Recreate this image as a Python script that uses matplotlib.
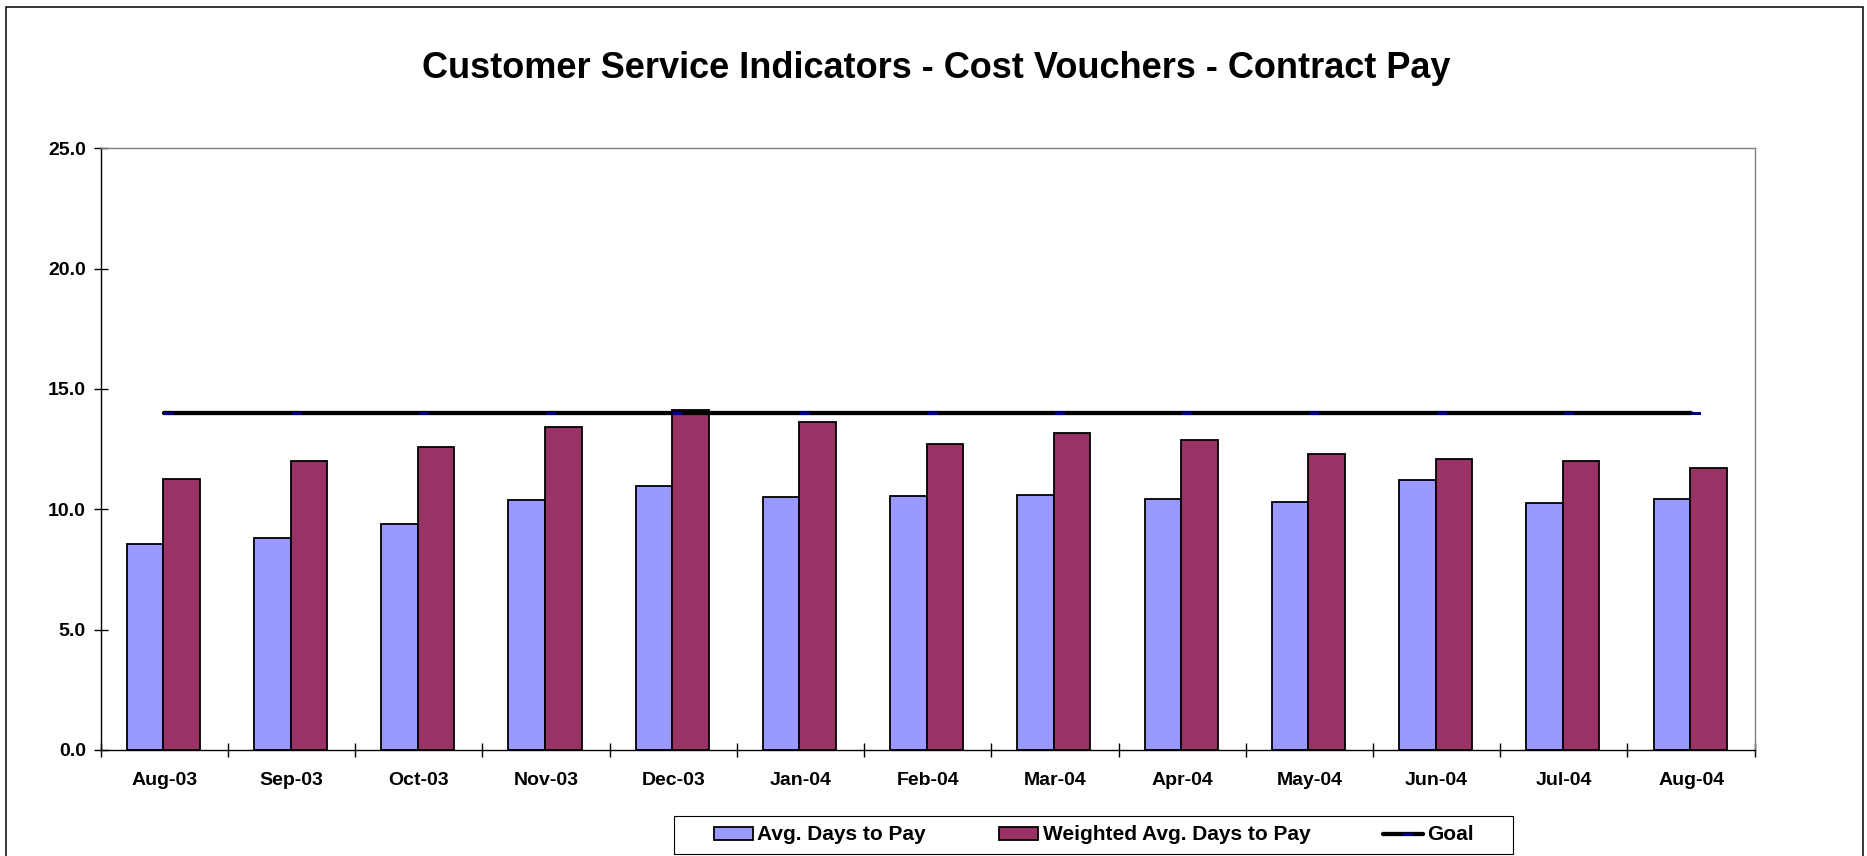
import matplotlib
matplotlib.use("Agg")
import matplotlib.pyplot as plt
import numpy as np
from matplotlib.patches import Rectangle
from matplotlib.path import Path
from matplotlib.ticker import FixedLocator, FormatStrFormatter

months = ["Aug-03", "Sep-03", "Oct-03", "Nov-03", "Dec-03", "Jan-04", "Feb-04",
          "Mar-04", "Apr-04", "May-04", "Jun-04", "Jul-04", "Aug-04"]
avg_days = [8.56, 8.82, 9.39, 10.39, 10.97, 10.50, 10.55, 10.58, 10.43, 10.29, 11.20, 10.26, 10.43]
weighted_days = [11.25, 12.02, 12.60, 13.40, 14.12, 13.61, 12.71, 13.18, 12.89, 12.31, 12.09, 12.02, 11.72]
goal = [14.0] * len(months)

plt.rcParams["font.family"] = ["Liberation Sans", "DejaVu Sans"]
plt.rcParams["font.weight"] = "bold"

W, H = 1867, 856
fig = plt.figure(figsize=(W / 100, H / 100), dpi=100)
fig.patch.set_facecolor("white")

left, right, top, bottom = 100.7, 1754.7, 148.3, 750
ax = fig.add_axes([left / W, 1 - bottom / H, (right - left) / W, (bottom - top) / H])

x = np.arange(len(months))
bw = 0.287
b1 = ax.bar(x - bw / 2 - 0.008, avg_days, width=bw, color="#9999FF", edgecolor="black",
            linewidth=1.3, label="Avg. Days to Pay", zorder=2)
b2 = ax.bar(x + bw / 2 - 0.008, weighted_days, width=bw, color="#993366", edgecolor="black",
            linewidth=1.3, label="Weighted Avg. Days to Pay", zorder=2)

# Excel-style dash marker sitting right of each point, drawn inside the thick line
half_dash = Path([(0, -0.15), (1, -0.15), (1, 0.15), (0, 0.15), (0, -0.15)],
                 [Path.MOVETO, Path.LINETO, Path.LINETO, Path.LINETO, Path.CLOSEPOLY])
gl, = ax.plot(x, goal, color="black", linewidth=3.1, solid_capstyle="round",
              marker=half_dash, markersize=14.4, markerfacecolor="#000080",
              markeredgewidth=0, label="Goal", zorder=3)

ax.set_xlim(-0.5, len(months) - 0.5)
ax.set_ylim(0, 25)
ax.set_yticks(np.arange(0, 25.1, 5))
ax.yaxis.set_major_formatter(FormatStrFormatter("%.1f"))
ax.set_xticks(x)
ax.set_xticklabels(months)
ax.xaxis.set_minor_locator(FixedLocator(np.arange(-0.5, len(months), 1.0)))
ax.tick_params(axis="x", which="major", length=0, pad=16, labelsize=14)
ax.tick_params(axis="x", which="minor", direction="inout", length=10, width=1.0)
ax.tick_params(axis="y", direction="inout", length=9.5, width=1.0, pad=6, labelsize=14)
for lab in ax.get_xticklabels() + ax.get_yticklabels():
    lab.set_fontweight("bold")

ax.spines["left"].set_color("black")
ax.spines["bottom"].set_color("black")
ax.spines["top"].set_color("#808080")
ax.spines["right"].set_color("#808080")
for s in ax.spines.values():
    s.set_linewidth(1.0)

fig.text(936 / W, 1 - 77.5 / H, "Customer Service Indicators - Cost Vouchers - Contract Pay",
         ha="center", va="baseline", fontsize=26, fontweight="bold")

# legend box drawn separately so side padding can differ from top/bottom
fig.patches.append(Rectangle((674 / W, 1 - 854 / H), (1513 - 674) / W, 38 / H,
                             transform=fig.transFigure, facecolor="white",
                             edgecolor="black", linewidth=0.8))
fig.legend([b1, b2, gl], ["Avg. Days to Pay", "Weighted Avg. Days to Pay", "Goal"],
           loc="center", bbox_to_anchor=(1093.5 / W, 1 - 835 / H), ncol=3, frameon=False,
           prop={"weight": "bold", "size": 15},
           handlelength=1.9, handleheight=0.6, handletextpad=0.2, columnspacing=3.5)

# outer chart border
fig.patches.append(Rectangle((6 / W, -0.05), (1863 - 6) / W, 1.05 - 7.5 / H,
                             transform=fig.transFigure, fill=False,
                             edgecolor="black", linewidth=1.1))

fig.savefig("out.png", dpi=100)
